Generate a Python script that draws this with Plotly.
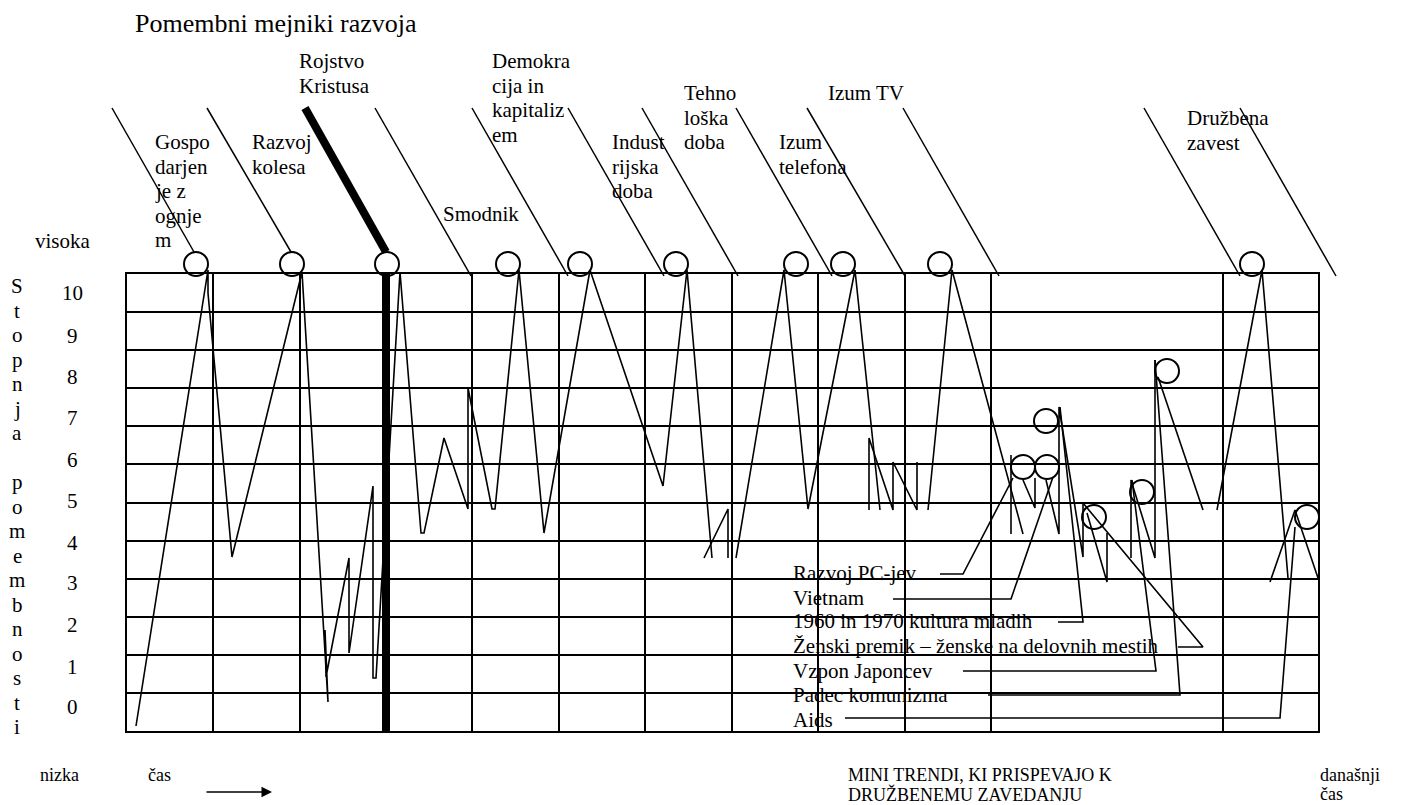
import plotly.graph_objects as go

# ---------------- data (canvas units: x right, y down) ----------------
title_text = "Pomembni mejniki razvoja"

# milestone labels (multi-line), label anchor (left x, first-line y)
milestone_labels = [
    ["Gospo", "darjen", "je z", "ognje", "m"],
    ["Razvoj", "kolesa"],
    ["Rojstvo", "Kristusa"],
    ["Smodnik"],
    ["Demokra", "cija in", "kapitaliz", "em"],
    ["Indust", "rijska", "doba"],
    ["Tehno", "loška", "doba"],
    ["Izum", "telefona"],
    ["Izum TV"],
    ["Družbena", "zavest"],
]
milestone_label_x = [155, 252, 299, 443, 492, 612, 684, 779, 828, 1187]
milestone_label_y = [142, 142, 61, 214, 61, 142, 93, 142, 93, 118]

# diagonal milestone pointers: top x, bottom x, bottom y (top y shared)
pointer_top_y = 108
pointer_top_x = [112, 207, 375, 472, 568, 642, 736, 807, 903, 1144, 1240]
pointer_bot_x = [194, 291, 471, 568, 664, 738, 832, 905, 999, 1240, 1336]
pointer_bot_y = [252, 252, 276, 276, 276, 276, 276, 276, 276, 276, 276]

# thick "Rojstvo Kristusa" marker
christ_x = [305, 386, None, 386, 386]
christ_y = [108, 252, None, 274, 731]

# milestone circles
milestone_cx = [196, 292, 387, 508, 580, 676, 796, 843, 940, 1252]
milestone_cy = [264] * 10

# mini-trend circles
trend_cx = [1023, 1047, 1046, 1094, 1142, 1167, 1307]
trend_cy = [467, 467, 421, 517, 492, 371, 517]

# importance zig-zag paths
zigzag_paths = [
    [(136, 726), (208, 270), (208, 293), (232, 557), (302, 272), (328, 702),
     (325, 630), (326, 677), (349, 558), (349, 653), (373, 486), (373, 678),
     (376, 678), (400, 272), (421, 533), (424, 533), (444, 438), (468, 509),
     (468, 388), (492, 509), (495, 509), (519, 270), (544, 533), (590, 270),
     (663, 486), (687, 270), (712, 558)],
    [(704, 558), (728, 509), (728, 558)],
    [(736, 558), (784, 270), (808, 509), (855, 270), (880, 510)],
    [(869, 510), (869, 438), (893, 510), (893, 462), (917, 510), (917, 462)],
    [(928, 510), (952, 270), (1023, 534)],
    [(1011, 534), (1011, 455)],
    [(1023, 480), (1035, 508), (1035, 478)],
    [(1046, 480), (1059, 534), (1059, 407), (1083, 557), (1083, 503)],
    [(1087, 513), (1107, 582), (1107, 533)],
    [(1131, 558), (1131, 480), (1155, 558), (1155, 360)],
    [(1158, 377), (1203, 510)],
    [(1217, 510), (1262, 270), (1288, 578)],
    [(1270, 582), (1295, 510), (1318, 578)],
]

# mini trends and their leader lines
trend_names = [
    "Razvoj PC-jev",
    "Vietnam",
    "1960 in 1970 kultura mladih",
    "Ženski premik – ženske na delovnih mestih",
    "Vzpon Japoncev",
    "Padec komunizma",
    "Aids",
]
trend_label_x = 793
trend_label_y = [573, 598, 621, 646, 671, 695, 720]
trend_leaders = [
    [(940, 574), (963, 574), (1013, 478)],
    [(893, 599), (1011, 599), (1053, 477)],
    [(1058, 622), (1083, 622), (1060, 407)],
    [(1178, 647), (1203, 647), (1083, 503)],
    [(963, 671), (1156, 671), (1132, 480)],
    [(988, 695), (1180, 695), (1155, 360)],
    [(845, 718), (1280, 718), (1295, 527)],
]

# scale on the left
tick_labels = ["10", "9", "8", "7", "6", "5", "4", "3", "2", "1", "0"]
tick_label_y = [293, 336, 377, 418, 460, 501, 543, 583, 625, 667, 707]
axis_title_letters = list("Stopnja") + [""] + list("pomembnosti")

# grid box
box_left, box_right, box_top, box_bottom = 127, 1318, 274, 731
grid_cols = [213, 300, 472, 559, 645, 732, 818, 905, 991, 1223]
n_rows = 12

bottom_texts = [
    ("nizka", 40, 775), ("čas", 148, 775),
    ("MINI TRENDI, KI PRISPEVAJO K", 848, 775),
    ("DRUŽBENEMU ZAVEDANJU", 848, 794),
    ("današnji", 1320, 775), ("čas", 1320, 794),
]
arrow_from = (205, 792)
arrow_to = (272, 792)

# ---------------- figure ----------------
W, H = 1416, 805
OFF = 8  # page body margin: the figure is drawn 8px from the window corner
FONT = "Liberation Serif, Times New Roman, serif"
fig = go.Figure()


def join_paths(paths):
    xs, ys = [], []
    for p in paths:
        for x, y in p:
            xs.append(x)
            ys.append(y)
        xs.append(None)
        ys.append(None)
    return xs, ys


# pointers
px, py = [], []
for tx, bx, by in zip(pointer_top_x, pointer_bot_x, pointer_bot_y):
    px += [tx, bx, None]
    py += [pointer_top_y, by, None]
fig.add_trace(go.Scatter(x=px, y=py, mode="lines",
                         line=dict(color="black", width=1.5), hoverinfo="skip"))
fig.add_trace(go.Scatter(x=christ_x, y=christ_y, mode="lines",
                         line=dict(color="black", width=8), hoverinfo="skip"))

zx, zy = join_paths(zigzag_paths)
fig.add_trace(go.Scatter(x=zx, y=zy, mode="lines",
                         line=dict(color="black", width=1.6), hoverinfo="skip"))
lx, ly = join_paths(trend_leaders)
fig.add_trace(go.Scatter(x=lx, y=ly, mode="lines",
                         line=dict(color="black", width=1.6), hoverinfo="skip"))

fig.add_trace(go.Scatter(x=milestone_cx + trend_cx, y=milestone_cy + trend_cy,
                         mode="markers",
                         marker=dict(symbol="circle-open", size=24, color="black",
                                     line=dict(width=2)),
                         hoverinfo="skip"))

# arrow
fig.add_annotation(x=arrow_to[0], y=arrow_to[1], ax=arrow_from[0], ay=arrow_from[1],
                   xref="x", yref="y", axref="x", ayref="y", showarrow=True,
                   arrowhead=2, arrowsize=1.4, arrowwidth=1.5, arrowcolor="black", text="")

# invisible trace for the grid subplot
fig.add_trace(go.Scatter(x=[box_left], y=[box_top], xaxis="x2", yaxis="y2",
                         mode="markers", marker=dict(size=1, opacity=0),
                         hoverinfo="skip"))

row_h = (box_bottom - box_top) / n_rows
row_vals = [box_top + k * row_h for k in range(1, n_rows)]


def txt(s, x, y, size=21, anchor="left"):
    fig.add_annotation(x=x, y=y, xref="x", yref="y", text=s, showarrow=False,
                       xanchor=anchor, yanchor="middle",
                       font=dict(family=FONT, size=size, color="black"),
                       borderpad=0)


txt(title_text, 134, 23, size=26)
LINE = 24.6
for lines, x0, y0 in zip(milestone_labels, milestone_label_x, milestone_label_y):
    for i, s in enumerate(lines):
        txt(s, x0 - 1, y0 + i * LINE)

for s, y in zip(trend_names, trend_label_y):
    txt(s, trend_label_x - 1, y)

for s, y in zip(tick_labels, tick_label_y):
    txt(s, 72, y, anchor="center")
txt("visoka", 34, 241)
for i, s in enumerate(axis_title_letters):
    if s:
        txt(s, 17, 286 + i * 24.5, anchor="center")

for s, x, y in bottom_texts:
    txt(s, x - 1, y, size=18)

fig.update_layout(
    width=W, height=H, margin=dict(l=0, r=0, t=0, b=0),
    paper_bgcolor="white", plot_bgcolor="rgba(0,0,0,0)", showlegend=False,
    xaxis=dict(range=[OFF, W + OFF], visible=False, domain=[0, 1]),
    yaxis=dict(range=[H + OFF, OFF], visible=False, domain=[0, 1]),
    xaxis2=dict(range=[box_left, box_right],
                domain=[(box_left - OFF) / W, (box_right - OFF) / W],
                anchor="y2", tickvals=grid_cols, showticklabels=False, ticks="",
                showgrid=True, gridcolor="black", gridwidth=2, zeroline=False,
                showline=True, mirror=True, linecolor="black", linewidth=2),
    yaxis2=dict(range=[box_bottom, box_top],
                domain=[1 - (box_bottom - OFF) / H, 1 - (box_top - OFF) / H],
                anchor="x2", tickvals=row_vals, showticklabels=False, ticks="",
                showgrid=True, gridcolor="black", gridwidth=2, zeroline=False,
                showline=True, mirror=True, linecolor="black", linewidth=2),
)

fig.write_html("out.html")
